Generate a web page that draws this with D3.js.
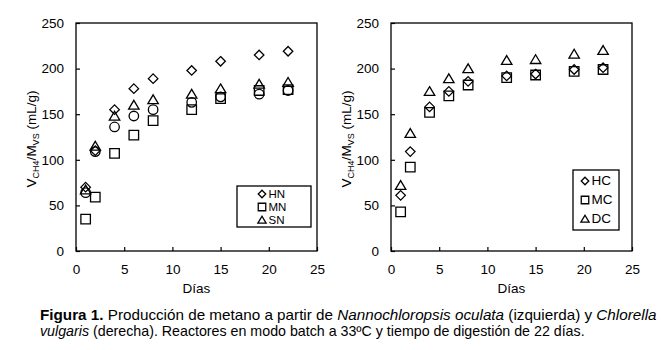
<!DOCTYPE html>
<html>
<head>
<meta charset="utf-8">
<script src="https://cdn.jsdelivr.net/npm/d3@7/dist/d3.min.js"></script>
<style>
  html, body { margin: 0; padding: 0; background: #fff; }
  svg { display: block; font-family: "Liberation Sans", Arial, sans-serif; }
</style>
</head>
<body>
<svg id="fig" width="661" height="350"></svg>
<script>
// Sampling days (both reactors)
const days = [1, 2, 4, 6, 8, 12, 15, 19, 22];

// Nannochloropsis oculata (left panel), mL CH4 / g VS
const HN = [70, 110, 155, 178, 189, 198, 208, 215, 219];
const MN = [35, 59, 107, 127, 143, 155, 167, 176, 177];
const SN = [67, 115, 148, 160, 166, 172, 178, 183, 185];
const ON = [64, 109, 136, 148, 155, 163, 169, 172, 176];

// Chlorella vulgaris (right panel)
const HC = [61, 109, 158, 175, 186, 192, 194, 199, 201];
const MC = [43, 92, 152, 170, 182, 190, 193, 197, 199];
const DC = [72, 129, 175, 189, 200, 209, 210, 216, 220];

const xTicks = [0, 5, 10, 15, 20, 25];
const yTicks = [0, 50, 100, 150, 200, 250];

const svg = d3.select("#fig");

// marker outlines centred on (0,0)
function shapePath(type, s) {
  const h = s / 2;
  if (type === "diamond") return `M0,${-h}L${h},0L0,${h}L${-h},0Z`;
  if (type === "square") return `M${-h},${-h}H${h}V${h}H${-h}Z`;
  if (type === "triangle") return `M0,${-h}L${h * 1.1},${h * 0.85}H${-h * 1.1}Z`;
  const p = d3.path(); p.arc(0, 0, h, 0, 2 * Math.PI); return p.toString();
}

function panel(cfg) {
  const x = d3.scaleLinear().domain([0, 25]).range([cfg.x0, cfg.x1]);
  const y = d3.scaleLinear().domain([0, 250]).range([251, 23]);
  const g = svg.append("g");

  // frame
  g.append("rect").attr("x", cfg.x0).attr("y", 23)
    .attr("width", cfg.x1 - cfg.x0).attr("height", 228)
    .attr("fill", "none").attr("stroke", "#000").attr("stroke-width", 1.3);

  const ax = g.append("g").attr("transform", "translate(0,251)")
    .call(d3.axisBottom(x).tickValues(xTicks).tickSizeInner(-4).tickSizeOuter(0).tickPadding(13));
  const ay = g.append("g").attr("transform", `translate(${cfg.x0},0)`)
    .call(d3.axisLeft(y).tickValues(yTicks).tickSizeInner(-4).tickSizeOuter(0).tickPadding(12));
  [ax, ay].forEach(a => {
    a.select(".domain").remove();
    a.selectAll("line").attr("stroke", "#000").attr("stroke-width", 1.2);
    a.selectAll("text").attr("font-size", 13.5).attr("fill", "#000")
      .attr("font-family", "Liberation Sans, Arial, sans-serif");
  });

  // axis titles
  g.append("text").attr("x", (cfg.x0 + cfg.x1) / 2).attr("y", 293)
    .attr("text-anchor", "middle").attr("font-size", 13.5).text("Días");

  const yl = g.append("text")
    .attr("transform", `translate(${cfg.x0 - 40},139) rotate(-90)`)
    .attr("text-anchor", "middle").attr("font-size", 13.5);
  yl.append("tspan").text("V");
  yl.append("tspan").attr("font-size", 9).attr("dy", 3).text("CH4");
  yl.append("tspan").attr("dy", -3).text("/M");
  yl.append("tspan").attr("font-size", 9).attr("dy", 3).text("VS");
  yl.append("tspan").attr("dy", -3).text(" (mL/g)");

  // data markers
  cfg.series.forEach(s => {
    g.append("g").selectAll("path").data(s.values).join("path")
      .attr("transform", (v, i) => `translate(${x(days[i])},${y(v)})`)
      .attr("d", shapePath(s.shape, 9.5))
      .attr("fill", "none").attr("stroke", "#000").attr("stroke-width", 1.3);
  });

  // legend
  const L = cfg.legend;
  g.append("rect").attr("x", L.x).attr("y", L.y).attr("width", L.w).attr("height", L.h)
    .attr("fill", "#fff").attr("stroke", "#000").attr("stroke-width", 1.3);
  cfg.series.filter(s => s.label).forEach((s, i) => {
    const cy = L.first + i * L.step;
    g.append("path").attr("transform", `translate(${L.mx},${cy})`)
      .attr("d", shapePath(s.shape, 7.5))
      .attr("fill", "none").attr("stroke", "#000").attr("stroke-width", 1.3);
    g.append("text").attr("x", L.mx + 6.5).attr("y", cy + 4.2)
      .attr("font-size", L.fs).text(s.label);
  });
}

panel({
  x0: 76, x1: 317,
  series: [
    { values: ON, shape: "circle" },
    { values: HN, shape: "diamond", label: "HN" },
    { values: MN, shape: "square", label: "MN" },
    { values: SN, shape: "triangle", label: "SN" }
  ],
  legend: { x: 237, y: 186, w: 74, h: 41, mx: 262, first: 194, step: 13, fs: 11.5 }
});

panel({
  x0: 391, x1: 632,
  series: [
    { values: HC, shape: "diamond", label: "HC" },
    { values: MC, shape: "square", label: "MC" },
    { values: DC, shape: "triangle", label: "DC" }
  ],
  legend: { x: 573, y: 170, w: 46, h: 60, mx: 585, first: 181, step: 19, fs: 13.5 }
});

// caption, two lines squeezed to the column width
function captionLine(parts, yBase, width) {
  const t = svg.append("text").attr("x", 0).attr("y", 0).attr("font-size", 14);
  parts.forEach(p => {
    const sp = t.append("tspan").text(p.t);
    if (p.b) sp.attr("font-weight", "bold");
    if (p.i) sp.attr("font-style", "italic");
  });
  const w = t.node().getComputedTextLength();
  t.attr("transform", `translate(40,${yBase}) scale(${width / w},1)`);
}
captionLine([
  { t: "Figura 1.", b: true },
  { t: " Producción de metano a partir de " },
  { t: "Nannochloropsis oculata", i: true },
  { t: " (izquierda) y " },
  { t: "Chlorella", i: true }
], 320, 617);
captionLine([
  { t: "vulgaris", i: true },
  { t: " (derecha). Reactores en modo batch a 33ºC y tiempo de digestión de 22 días." }
], 336, 545);
</script>
</body>
</html>
